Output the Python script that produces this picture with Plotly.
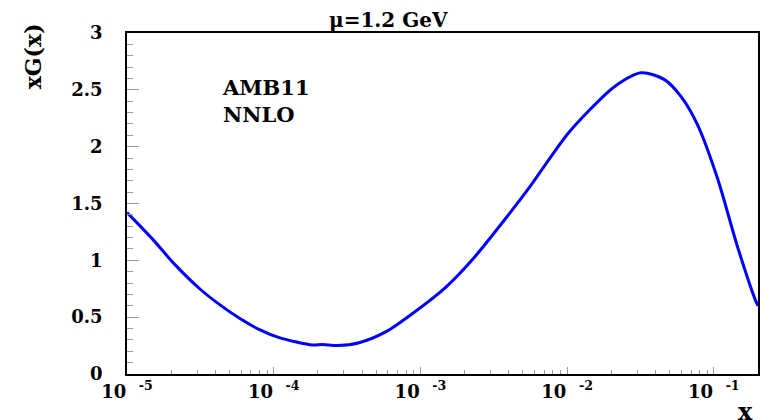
import plotly.graph_objects as go
import math

# Data (x, xG(x))
x_vals = [1.0e-5, 1.51e-5, 2.06e-5, 3.13e-5, 4.28e-5, 5.85e-5, 8.0e-5, 1.09e-4,
          1.84e-4, 2.15e-4, 2.72e-4, 3.82e-4, 5.79e-4, 8.79e-4, 1.48e-3, 2.24e-3,
          3.98e-3, 5.45e-3, 7.83e-3, 1.02e-2, 1.39e-2, 2.11e-2, 3.2e-2, 4.61e-2,
          5.98e-2, 7.76e-2, 0.106, 0.145, 0.192, 0.2]
xg_vals = [1.42, 1.18, 0.98, 0.75, 0.61, 0.49, 0.39, 0.32,
           0.255, 0.26, 0.25, 0.275, 0.37, 0.53, 0.76, 1.00,
           1.40, 1.63, 1.92, 2.12, 2.31, 2.53, 2.65, 2.59,
           2.44, 2.19, 1.72, 1.12, 0.65, 0.60]

x_tickvals = [1e-5, 1e-4, 1e-3, 1e-2, 1e-1]
x_ticktext = ["10\u00a0\u00a0<sup>-5</sup>", "10\u00a0\u00a0<sup>-4</sup>", "10\u00a0\u00a0<sup>-3</sup>",
              "10\u00a0\u00a0<sup>-2</sup>", "10\u00a0\u00a0<sup>-1</sup>"]
y_tickvals = [0, 0.5, 1, 1.5, 2, 2.5, 3]
y_ticktext = ["0", "0.5", "1", "1.5", "2", "2.5", "3"]

x_minor = [m * d for d in x_tickvals for m in range(2, 10) if m * d <= 0.2]
y_minor = [i / 10 for i in range(0, 31) if i % 5 != 0]

FONT = "DejaVu Serif"
PAD = "\u00a0\u00a0\u00a0"
XR = [-5, math.log10(0.2)]
YR = [0, 3]

fig = go.Figure()
fig.add_trace(go.Scatter(x=x_vals, y=xg_vals, mode="lines",
                         line=dict(color="#0000ff", width=3, shape="spline", smoothing=0.8),
                         showlegend=False))
fig.add_trace(go.Scatter(x=[x_vals[0]], y=[xg_vals[0]], mode="markers", opacity=0,
                         xaxis="x2", yaxis="y2", showlegend=False))

W, H = 769, 420
L, R, T, B = 127, 9, 33, 46
pw, ph = W - L - R, H - T - B

def px(xp):
    return (xp - L) / pw

def py(yp):
    return (H - B - yp) / ph

fig.update_layout(
    width=W, height=H,
    margin=dict(l=L, r=R, t=T, b=B),
    paper_bgcolor="white", plot_bgcolor="white",
    xaxis=dict(type="log", range=XR,
               tickmode="array", tickvals=x_tickvals,
               ticktext=["<b>" + t + "</b>" for t in x_ticktext],
               ticks="inside", ticklen=7, tickcolor="#999999", tickwidth=1,
               showgrid=False, zeroline=False,
               showline=True, linecolor="black", linewidth=2, mirror=True,
               tickfont=dict(family=FONT, size=18, color="black")),
    yaxis=dict(range=YR,
               tickmode="array", tickvals=y_tickvals,
               ticktext=["<b>" + t + PAD + "</b>" for t in y_ticktext],
               ticks="inside", ticklen=12, tickcolor="#999999", tickwidth=1,
               showgrid=False, zeroline=False,
               showline=True, linecolor="black", linewidth=2, mirror=True,
               tickfont=dict(family=FONT, size=18, color="black")),
    xaxis2=dict(type="log", range=XR, overlaying="x", side="bottom", anchor="y2",
                tickmode="array", tickvals=x_minor, showticklabels=False,
                ticks="inside", ticklen=4, tickcolor="#999999", tickwidth=1,
                showgrid=False, zeroline=False, showline=False),
    yaxis2=dict(range=YR, overlaying="y", side="left", anchor="x2",
                tickmode="array", tickvals=y_minor, showticklabels=False,
                ticks="inside", ticklen=6, tickcolor="#999999", tickwidth=1,
                showgrid=False, zeroline=False, showline=False),
)

anns = [
    dict(text="<b>\u03bc=1.2 GeV</b>", x=px(389), y=py(20), size=20, xanchor="center", angle=0, align="center"),
    dict(text="<b>xG(x)</b>", x=px(33), y=py(56), size=22, xanchor="center", angle=-90, align="center"),
    dict(text="<b>AMB11<br>NNLO</b>", x=px(220), y=py(101), size=21, xanchor="left", angle=0, align="left"),
    dict(text="<b>x</b>", x=px(747), y=py(412), size=24, xanchor="center", angle=0, align="center"),
]
for a in anns:
    fig.add_annotation(text=a["text"], x=a["x"], y=a["y"], xref="paper", yref="paper",
                       xanchor=a["xanchor"], yanchor="middle", showarrow=False,
                       textangle=a["angle"], align=a["align"],
                       font=dict(family=FONT, size=a["size"], color="black"))

fig.write_html("out.html")
